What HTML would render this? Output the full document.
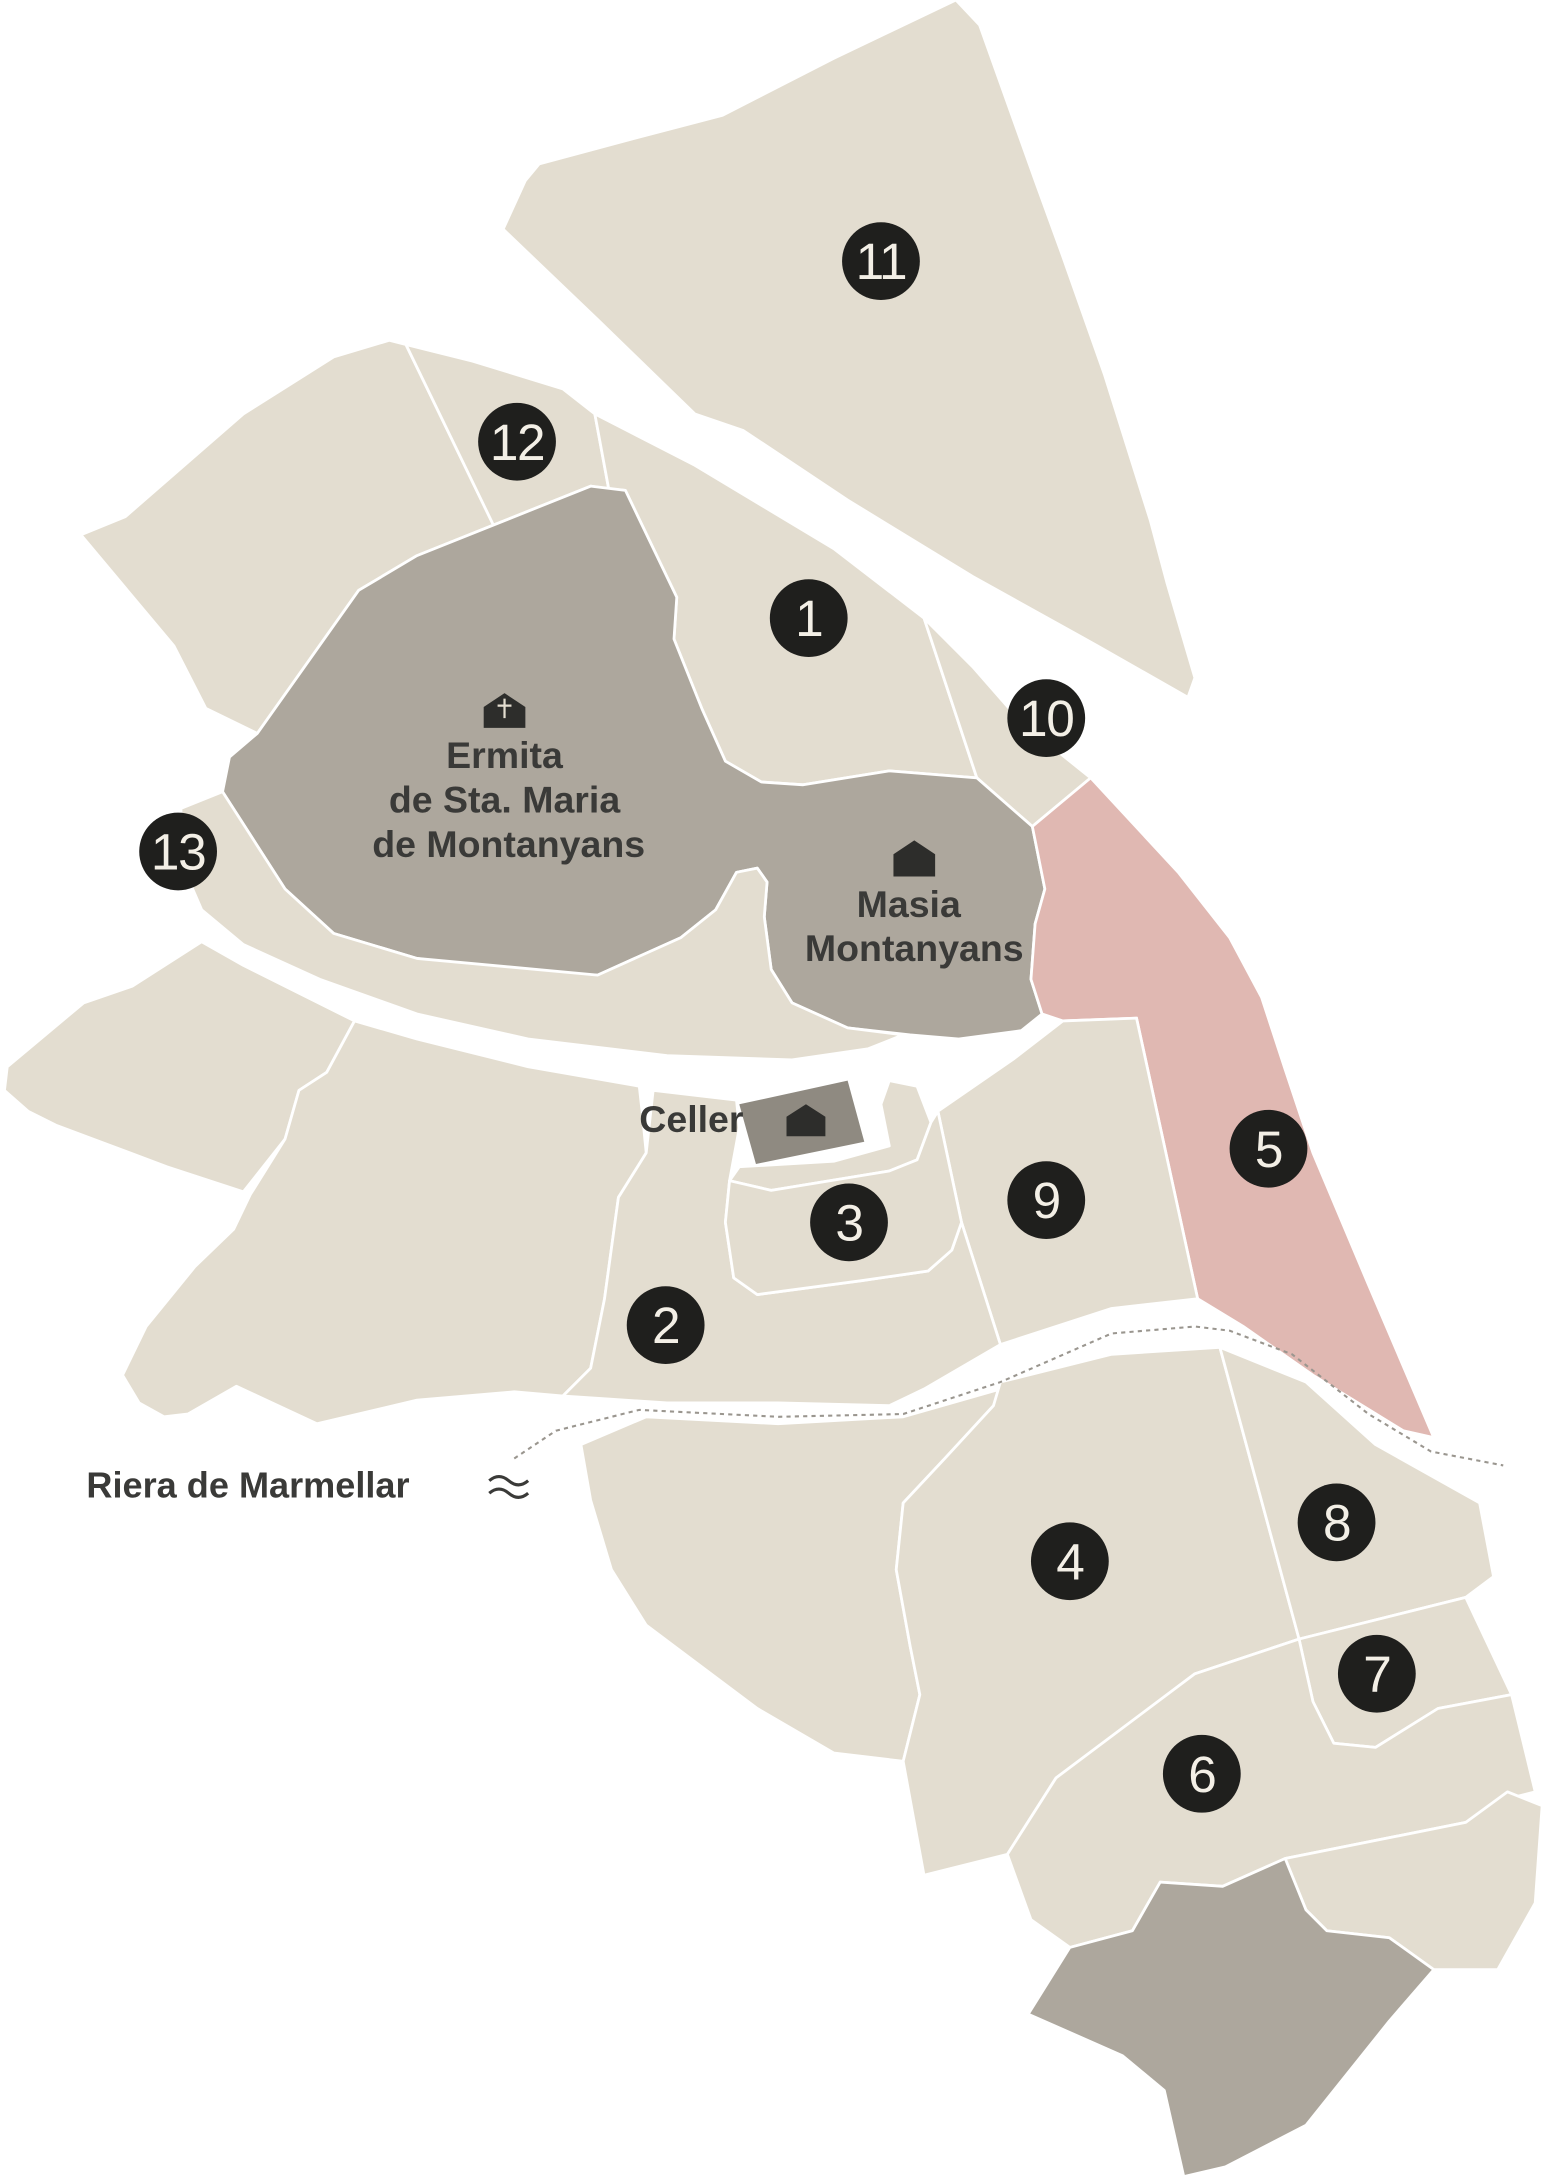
<!DOCTYPE html>
<html><head><meta charset="utf-8"><style>
html,body{margin:0;padding:0;background:#fff}
svg{display:block}
.p{fill:#e3ddd0;stroke:#fff;stroke-width:2;stroke-linejoin:round}
.d{fill:#ada79d;stroke:#fff;stroke-width:2;stroke-linejoin:round}
.n{font-family:"Liberation Sans",sans-serif;font-size:37px;fill:#f3efe6;text-anchor:middle;letter-spacing:-1px}
.l{font-family:"Liberation Sans",sans-serif;font-size:27px;font-weight:bold;fill:#3a3a38;text-anchor:middle}
</style></head><body>
<svg width="1548" height="2178" viewBox="0 0 1114 1568" xmlns="http://www.w3.org/2000/svg">
<polygon class="p" points="362,165 378,130 388,118 455,100 520,83 600,42 688,0 705,18 745,130 765,185 795,270 828,375 840,420 860,488 855,502 790,465 700,415 610,360 535,310 500,298 430,230"/>
<polygon class="p" points="58,385 90,372 175,298 240,257 280,245 292,248 355,378 300,400 258,425 185,528 148,510 125,465"/>
<polygon class="p" points="292,248 340,260 405,280 428,298 438,352 425,350 355,378"/>
<polygon class="p" points="428,298 500,335 600,395 665,445 703,560 640,555 578,565 548,563 522,548 505,510 485,460 487,430 450,353 438,352"/>
<polygon class="p" points="665,445 700,480 735,520 785,560 743,595 703,560"/>
<polygon class="d" points="185,528 258,425 300,400 355,378 425,350 450,353 487,430 485,460 505,510 522,548 548,563 578,565 640,555 703,560 743,595 752,640 745,665 742,705 750,730 735,742 690,748 655,745 610,740 570,722 555,698 550,660 552,635 545,625 530,628 515,655 490,675 430,702 370,700 300,690 240,672 205,640 160,570 165,545"/>
<polygon class="p" points="130,582 160,570 205,640 240,672 300,690 430,702 490,675 515,655 530,628 545,625 552,635 550,660 555,698 570,722 610,740 650,745 625,755 570,763 480,760 380,748 300,730 230,705 175,680 145,655 132,625"/>
<polygon points="743,595 785,560 848,628 885,675 908,718 925,770 945,830 985,925 1032,1035 1010,1030 945,990 895,955 862,935 818,733 765,735 750,730 742,705 745,665 752,640" fill="#e0b8b2" stroke="#fff" stroke-width="2"/>
<polygon class="p" points="765,735 818,733 862,935 800,942 720,968 692,880 675,800 730,762"/>
<polygon class="p" points="5,768 60,722 95,710 145,678 175,695 255,735 235,772 215,785 205,820 175,858 120,840 40,810 20,800 3,785"/>
<polygon class="p" points="255,735 300,748 380,768 460,782 462,800 465,830 445,862 435,935 425,985 405,1005 370,1002 300,1008 228,1025 170,998 135,1018 118,1020 100,1010 88,990 105,955 140,912 168,885 180,860 205,820 215,785 235,772"/>
<polygon class="p" points="445,862 465,830 470,785 530,792 532,812 525,850 522,880 528,920 545,932 620,922 668,915 685,900 692,880 720,968 665,1000 640,1012 560,1010 480,1010 405,1005 425,985 435,935"/>
<polygon class="p" points="640,778 660,782 670,808 660,835 640,843 555,857 525,850 532,840 600,836 640,825 634,795"/>
<polygon class="p" points="525,850 555,857 640,843 660,835 670,808 675,800 692,880 685,900 668,915 620,922 545,932 528,920 522,880"/>
<polygon points="532,795 610,778 622,822 544,838" fill="#8f8a81"/>
<path d="M566,818 v-14 l14,-9 l14,9 v14 z" fill="#2d2d2b"/>
<polygon class="p" points="418,1040 465,1020 560,1025 650,1020 720,1000 715,1012 680,1050 650,1082 645,1130 655,1185 662,1220 650,1268 600,1262 545,1230 465,1170 440,1130 425,1080"/>
<polygon class="p" points="720,995 800,975 878,970 935,1180 860,1205 760,1280 725,1335 665,1350 650,1268 662,1220 655,1185 645,1130 650,1082 680,1050 715,1012"/>
<polygon class="p" points="878,970 940,995 990,1040 1065,1082 1075,1135 1055,1150 935,1180"/>
<polygon class="p" points="935,1180 1055,1150 1088,1220 1035,1230 990,1258 960,1255 945,1225"/>
<polygon class="p" points="935,1180 945,1225 960,1255 990,1258 1035,1230 1088,1220 1105,1290 1085,1295 1055,1312 925,1338 880,1358 835,1355 815,1390 770,1402 742,1382 725,1335 760,1280 860,1205"/>
<polygon class="p" points="925,1338 1055,1312 1085,1290 1110,1300 1105,1370 1078,1418 1032,1418 1000,1395 955,1390 940,1375"/>
<polygon class="d" points="835,1355 880,1358 925,1338 940,1375 955,1390 1000,1395 1032,1418 1000,1455 940,1530 882,1560 852,1567 838,1505 808,1480 740,1450 770,1402 815,1390"/>
<polyline points="370,1050 400,1030 460,1015 560,1020 650,1018 720,995 800,960 860,955 885,958 930,975 985,1018 1030,1045 1082,1055" fill="none" stroke="#9a968f" stroke-width="1.5" stroke-dasharray="3,3"/>
<g fill="#1f1f1d">
<circle cx="634" cy="188" r="28"/><circle cx="372" cy="318" r="28"/><circle cx="582" cy="445" r="28"/><circle cx="753" cy="517" r="28"/><circle cx="128" cy="613" r="28"/><circle cx="913" cy="827" r="28"/><circle cx="753" cy="864" r="28"/><circle cx="611" cy="880" r="28"/><circle cx="479" cy="954" r="28"/><circle cx="962" cy="1096" r="28"/><circle cx="770" cy="1124" r="28"/><circle cx="991" cy="1205" r="28"/><circle cx="865" cy="1277" r="28"/>
</g>
<text class="n" x="634" y="201">11</text><text class="n" x="372" y="331">12</text><text class="n" x="582" y="458">1</text><text class="n" x="753" y="530">10</text><text class="n" x="128" y="626">13</text><text class="n" x="913" y="840">5</text><text class="n" x="753" y="877">9</text><text class="n" x="611" y="893">3</text><text class="n" x="479" y="967">2</text><text class="n" x="962" y="1109">8</text><text class="n" x="770" y="1137">4</text><text class="n" x="991" y="1218">7</text><text class="n" x="865" y="1290">6</text>
<path d="M348,524 v-15 l15,-10 l15,10 v15 z" fill="#2d2d2b"/>
<path d="M363,503 v14 M358,508 h10" stroke="#e3ddd0" stroke-width="1.6"/>
<text class="l" x="363" y="553">Ermita</text><text class="l" x="363" y="585">de Sta. Maria</text><text class="l" x="366" y="617">de Montanyans</text>
<path d="M643,631 v-16 l15,-10 l15,10 v16 z" fill="#2d2d2b"/>
<text class="l" x="654" y="660">Masia</text><text class="l" x="658" y="692">Montanyans</text>
<text class="l" x="460" y="815" style="text-anchor:start">Celler</text>
<text class="l" x="62" y="1078" style="text-anchor:start;font-size:26px">Riera de Marmellar</text>
<path d="M352,1066 q7,-6 14,0 t14,0 M352,1075 q7,-6 14,0 t14,0" fill="none" stroke="#3a3a38" stroke-width="2.2"/>
</svg>
</body></html>
